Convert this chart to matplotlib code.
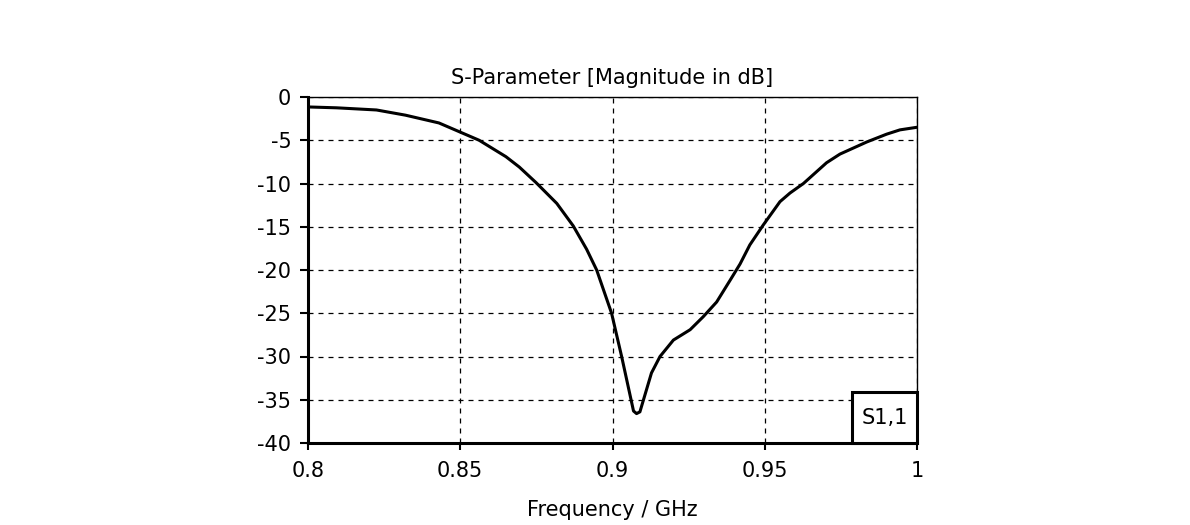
import numpy as np
import matplotlib
matplotlib.use('Agg')
import matplotlib.pyplot as plt

# S11 magnitude (GHz, dB)
freq_ghz = [0.800, 0.8094, 0.8225, 0.832, 0.843, 0.8496, 0.8562, 0.865, 0.8694,
            0.8749, 0.8817, 0.8871, 0.8915, 0.8948, 0.8997, 0.903, 0.9069, 0.9079,
            0.909, 0.9128, 0.9156, 0.920, 0.9255, 0.9298, 0.9342, 0.9386, 0.9419,
            0.9451, 0.9495, 0.955, 0.9583, 0.9627, 0.9703, 0.9747, 0.9835, 0.990,
            0.9944, 1.000]
s11_db = [-1.15, -1.25, -1.5, -2.1, -3.0, -4.0, -5.0, -6.9, -8.1,
          -9.9, -12.3, -14.9, -17.6, -20.0, -25.0, -30.0, -36.3, -36.6,
          -36.4, -31.9, -30.0, -28.1, -26.9, -25.4, -23.7, -21.2, -19.3,
          -17.1, -14.8, -12.1, -11.1, -10.0, -7.6, -6.6, -5.2, -4.3,
          -3.8, -3.5]

x_ticks = [0.8, 0.85, 0.9, 0.95, 1.0]
x_tick_labels = ['0.8', '0.85', '0.9', '0.95', '1']
y_ticks = [0, -5, -10, -15, -20, -25, -30, -35, -40]

plt.rcParams['font.family'] = ['DejaVu Sans']
plt.rcParams['axes.unicode_minus'] = False
fig = plt.figure(figsize=(11.9, 5.25), dpi=100)
ax = fig.add_axes([308 / 1190, 1 - 443 / 525, 609 / 1190, 346 / 525])

ax.plot(freq_ghz, s11_db, color='black', linewidth=2.2, label='S1,1',
        solid_joinstyle='round', zorder=3)

ax.set_xlim(0.8, 1.0)
ax.set_ylim(-40, 0)
ax.set_xticks(x_ticks)
ax.set_xticklabels(x_tick_labels)
ax.set_yticks(y_ticks)
ax.grid(True, color='black', linestyle=(0, (4, 4)), linewidth=0.9)

ax.tick_params(axis='both', labelsize=15, colors='black', width=1.5)
ax.tick_params(axis='x', length=5, pad=8)
ax.tick_params(axis='y', length=6, pad=6)

# thick left/bottom, thin top/right like the CST export
for side in ['left', 'bottom']:
    ax.spines[side].set_linewidth(2.2)
for side in ['top', 'right']:
    ax.spines[side].set_linewidth(1.0)

ax.set_title('S-Parameter [Magnitude in dB]', fontsize=15, pad=9)
ax.set_xlabel('Frequency / GHz', fontsize=15, labelpad=14)

leg = ax.legend(loc='lower right', handlelength=0, handletextpad=0,
                handleheight=2.0, borderaxespad=0, fontsize=15, fancybox=False,
                framealpha=1, edgecolor='black', borderpad=0.45)
leg.get_frame().set_linewidth(2.2)

fig.savefig('out.png', dpi=100)
